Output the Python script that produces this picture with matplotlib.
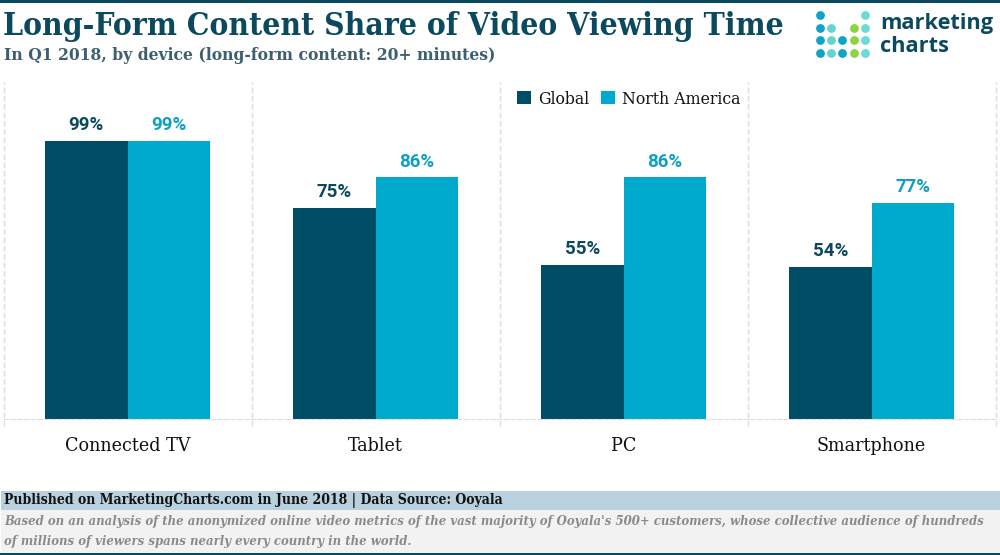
#!/usr/bin/env python3
import numpy as np
import matplotlib
matplotlib.use('Agg')
import matplotlib.pyplot as plt
from matplotlib.patches import Rectangle

categories = ['Connected TV', 'Tablet', 'PC', 'Smartphone']
global_vals = [99, 75, 55, 54]
north_america = [99, 86, 86, 77]
series_names = ['Global', 'North America']

DARK = '#004e66'
BLUE = '#00aacc'
W, H = 1000, 555
SLAB = ['DejaVu Serif']

fig = plt.figure(figsize=(W / 100, H / 100), dpi=100, facecolor='white')

# overlay in pixel coords for header, footer and logo
bg = fig.add_axes([0, 0, 1, 1])
bg.set_xlim(0, W)
bg.set_ylim(H, 0)
bg.axis('off')

bg.add_patch(Rectangle((0, 0), W, 2.5, color='#0b4a5e', lw=0))
bg.add_patch(Rectangle((1, 491), W, 19, color='#b9d0de', lw=0))
bg.add_patch(Rectangle((1, 510), W, 43, color='#f2f2f2', lw=0))
bg.add_patch(Rectangle((0, 553), W, 2, color='#0b4a5e', lw=0))

bg.text(3, 26, 'Long-Form Content Share of Video Viewing Time', fontsize=22.8,
        family=SLAB, stretch='condensed', weight='bold', color='#0b4a5e', va='center', ha='left')
bg.text(4, 55, 'In Q1 2018, by device (long-form content: 20+ minutes)', fontsize=12.5,
        family=SLAB, stretch='condensed', weight='bold', color='#3d5f6e', va='center', ha='left')

bg.text(4, 501, 'Published on MarketingCharts.com in June 2018 | Data Source: Ooyala',
        fontsize=10, family=SLAB, stretch='condensed', weight='bold', color='#111111', va='center')
bg.text(4, 522, "Based on an analysis of the anonymized online video metrics of the vast majority "
        "of Ooyala's 500+ customers, whose collective audience of hundreds",
        fontsize=9.4, family=SLAB, stretch='condensed', weight='bold', style='italic',
        color='#8a8a8a', va='center')
bg.text(4, 542, 'of millions of viewers spans nearly every country in the world.',
        fontsize=9.4, family=SLAB, stretch='condensed', weight='bold', style='italic',
        color='#8a8a8a', va='center')

# logo
rows = [15, 28, 40, 53]
logo_cols = [(820, rows, '#0fa3c7'), (831, rows[1:], '#63d4d0'), (842, rows[2:], '#0fa3c7'),
             (854, rows[1:], '#8fd43d'), (865, rows, '#6adcd6')]
for x, ys, c in logo_cols:
    bg.scatter([x] * len(ys), ys, s=40, color=c, lw=0)
bg.text(880, 24, 'marketing', fontsize=15.7, family='Open Sans', weight='bold',
        color='#0b4a5e', va='center')
bg.text(880, 46, 'charts', fontsize=15.7, family='Open Sans', weight='bold',
        color='#0b4a5e', va='center')

# main plot
ax = fig.add_axes([3.6 / W, 1 - 419 / H, 992 / W, 337 / H])
ax.patch.set_alpha(0)
x = np.arange(len(categories))
bw = 1 / 3
b1 = ax.bar(x - bw / 2, global_vals, bw, color=DARK, label=series_names[0])
b2 = ax.bar(x + bw / 2, north_america, bw, color=BLUE, label=series_names[1])
ax.set_xlim(-0.5, 3.5)
ax.set_ylim(0, 120)

for bars, vals, col in ((b1, global_vals, '#0b4a5e'), (b2, north_america, '#109fc2')):
    for r, v in zip(bars, vals):
        ax.annotate(f'{v}%', (r.get_x() + r.get_width() / 2, v), xytext=(0, 5),
                    textcoords='offset points', ha='center', va='bottom', fontsize=13.5,
                    family='Roboto', weight='bold', color=col)

for s in ('top', 'right', 'left'):
    ax.spines[s].set_visible(False)
ax.spines['bottom'].set_color('#dcdcdc')
ax.spines['bottom'].set_linestyle((0, (4, 2)))
for sep in np.arange(-0.5, 4):
    ax.plot([sep, sep], [-2.5, 120], color='#dcdcdc', lw=1, ls=(0, (4, 2)), clip_on=False)

ax.set_yticks([])
ax.set_xticks(x)
ax.set_xticklabels(categories, fontsize=14, family=SLAB, stretch='condensed', color='#111111')
ax.tick_params(axis='x', length=0, pad=13)

ax.legend(loc='upper left', bbox_to_anchor=(510 / 992, 0.985), ncol=2, frameon=False,
          prop={'family': SLAB, 'stretch': 'condensed', 'size': 12.6}, handlelength=0.8,
          handleheight=0.8, handletextpad=0.4, columnspacing=0.7, borderaxespad=0, borderpad=0.2,
          labelcolor='#111111')

fig.savefig('out.png', dpi=100)
